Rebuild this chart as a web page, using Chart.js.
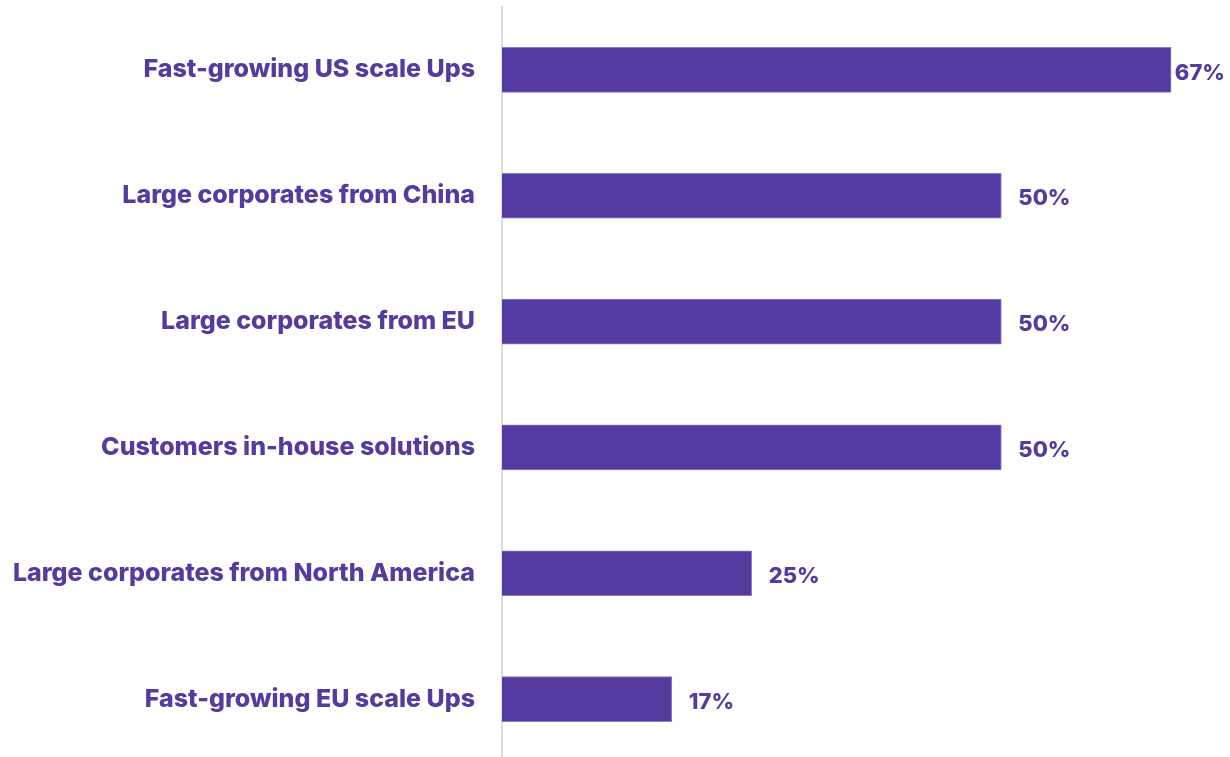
<!DOCTYPE html>
<html>
<head>
<meta charset="utf-8">
<script src="https://cdn.jsdelivr.net/npm/chart.js@4.4.1/dist/chart.umd.min.js"></script>
<style>
  html, body { margin: 0; padding: 0; background: #fff; overflow: hidden; }
  #wrap { width: 1230px; height: 757px; overflow: hidden; }
  canvas { display: block; }
</style>
</head>
<body>
<div id="wrap"><canvas id="competitors" width="1230" height="762"></canvas></div>
<script>
var categories = [
  "Fast-growing US scale Ups",
  "Large corporates from China",
  "Large corporates from EU",
  "Customers in-house solutions",
  "Large corporates from North America",
  "Fast-growing EU scale Ups"
];
var shares = [67, 50, 50, 50, 25, 17];

var purple = "#553b9f";
var labelFont = { family: "Inter", size: 25, weight: "800" };

// percentage labels at the end of each bar, kept inside the canvas
var valueLabels = {
  id: "valueLabels",
  afterDatasetsDraw: function (chart) {
    var ctx = chart.ctx;
    var meta = chart.getDatasetMeta(0);
    ctx.save();
    ctx.fillStyle = purple;
    ctx.font = "800 22px Inter";
    ctx.textAlign = "left";
    ctx.textBaseline = "middle";
    meta.data.forEach(function (bar, i) {
      var text = shares[i] + "%";
      var w = ctx.measureText(text).width;
      var x = Math.min(bar.x + 17, chart.width - 5 - w);
      ctx.fillText(text, x, bar.y + 3);
    });
    ctx.restore();
  }
};

var ctx = document.getElementById("competitors").getContext("2d");
new Chart(ctx, {
  type: "bar",
  data: {
    labels: categories,
    datasets: [{
      data: shares,
      backgroundColor: purple,
      borderColor: "#8e7bcf",
      borderWidth: 1,
      barThickness: 45
    }]
  },
  plugins: [valueLabels],
  options: {
    indexAxis: "y",
    responsive: false,
    animation: false,
    layout: { padding: { top: 7, right: 5, bottom: 0, left: 0 } },
    plugins: {
      legend: { display: false },
      tooltip: { enabled: false }
    },
    scales: {
      x: {
        display: false,
        min: 0,
        max: 72.4
      },
      y: {
        // fixed label column; tick padding should not pad the top/bottom
        afterFit: function (scale) {
          scale.width = 502;
          scale.paddingTop = 0;
          scale.paddingBottom = 0;
        },
        grid: { display: false, drawTicks: false },
        border: { display: true, color: "#dcdcdc", width: 2 },
        ticks: {
          color: purple,
          font: labelFont,
          padding: 27
        }
      }
    }
  }
});
</script>
</body>
</html>
